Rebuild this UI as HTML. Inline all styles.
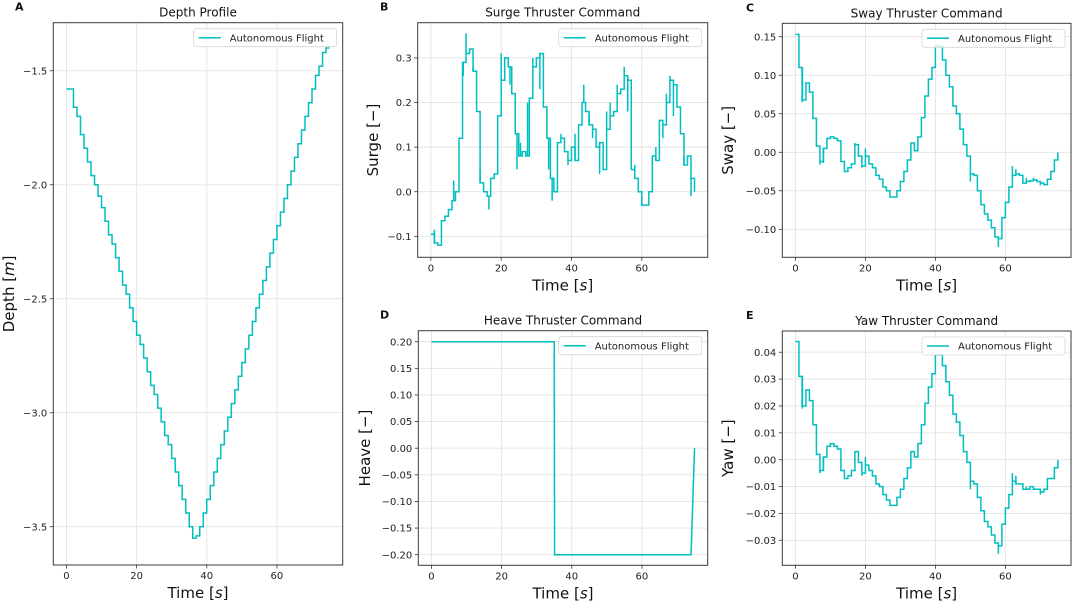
<!DOCTYPE html>
<html><head><meta charset="utf-8"><style>
html,body{margin:0;padding:0;background:#fff}
svg{display:block;font-family:"DejaVu Sans","Liberation Sans",sans-serif}
</style></head><body>
<svg id="fig" width="1072" height="601" viewBox="0 0 1072 601" xmlns="http://www.w3.org/2000/svg"></svg>
<script>
const xTicks = [0, 20, 40, 60];
const depthValues = [-1.58,-1.58,-1.66,-1.70,-1.78,-1.84,-1.90,-1.96,-2.00,-2.05,-2.10,-2.16,-2.22,-2.26,-2.32,-2.38,-2.44,-2.48,-2.54,-2.60,-2.66,-2.70,-2.76,-2.82,-2.88,-2.92,-2.98,-3.04,-3.10,-3.14,-3.20,-3.26,-3.32,-3.38,-3.44,-3.50,-3.55,-3.54,-3.50,-3.44,-3.38,-3.32,-3.26,-3.20,-3.14,-3.08,-3.02,-2.96,-2.90,-2.84,-2.78,-2.72,-2.66,-2.60,-2.54,-2.48,-2.42,-2.36,-2.30,-2.24,-2.18,-2.12,-2.06,-2.00,-1.94,-1.88,-1.82,-1.76,-1.70,-1.64,-1.58,-1.52,-1.48,-1.42,-1.40,-1.40];
const surgeValues = [-0.095,-0.115,-0.12,-0.065,-0.055,-0.04,-0.02,0.0,0.12,0.29,0.31,0.32,0.27,0.18,0.02,0.0,-0.01,0.03,0.04,0.17,0.25,0.30,0.28,0.22,0.13,0.08,0.09,0.08,0.21,0.28,0.30,0.31,0.19,0.12,0.03,0.0,0.11,0.12,0.09,0.07,0.10,0.07,0.15,0.20,0.18,0.15,0.14,0.10,0.11,0.05,0.14,0.17,0.18,0.22,0.23,0.26,0.25,0.05,0.03,0.0,-0.03,-0.03,0.0,0.08,0.07,0.16,0.15,0.20,0.25,0.24,0.19,0.13,0.06,0.08,0.03,0.0];
const surgeSpikeT = [1,6.5,9.2,10,12,14,16.5,20,22.5,24.5,25.5,27.5,29,31,33.5,34.5,37,39,41,43.5,45,46,48,50,51,53,55,56,58,60,62,64,66,67,68,69,72,74];
const surgeSpikeV = [-0.085,0.025,0.26,0.355,0.28,0.05,-0.04,0.31,0.24,0.05,0.11,0.2,0.3,0.23,0.05,-0.02,0.13,0.06,0.13,0.24,0.18,0.12,0.04,0.18,0.2,0.24,0.28,0.18,0.06,-0.01,0.0,0.1,0.12,0.22,0.26,0.17,0.08,-0.01];
const swayValues = [0.153,0.11,0.068,0.09,0.078,0.044,0.008,-0.012,0.005,0.018,0.02,0.018,0.015,-0.012,-0.025,-0.02,-0.015,0.01,-0.005,-0.018,-0.005,-0.015,-0.02,-0.03,-0.035,-0.045,-0.05,-0.058,-0.058,-0.05,-0.038,-0.025,-0.01,0.012,0.002,0.02,0.045,0.073,0.095,0.11,0.138,0.138,0.12,0.10,0.085,0.06,0.05,0.03,0.01,-0.005,-0.028,-0.03,-0.05,-0.068,-0.08,-0.088,-0.098,-0.11,-0.112,-0.085,-0.065,-0.045,-0.03,-0.028,-0.03,-0.04,-0.038,-0.037,-0.036,-0.038,-0.04,-0.042,-0.035,-0.025,-0.01,0.0];
const swaySpikeT = [1.9,7,8,17,19,20,50,58,62,63,66,68,70];
const swaySpikeV = [0.065,-0.016,-0.014,0.012,-0.02,0.005,-0.038,-0.123,-0.018,-0.022,-0.033,-0.033,-0.043];
const yawValues = [0.044,0.031,0.020,0.026,0.022,0.013,0.002,-0.004,0.001,0.005,0.006,0.005,0.004,-0.004,-0.007,-0.006,-0.004,0.003,-0.001,-0.005,-0.002,-0.004,-0.006,-0.009,-0.01,-0.013,-0.015,-0.017,-0.017,-0.014,-0.011,-0.007,-0.003,0.003,0.001,0.006,0.013,0.021,0.027,0.032,0.039,0.039,0.035,0.029,0.024,0.017,0.014,0.009,0.003,-0.001,-0.008,-0.009,-0.014,-0.019,-0.023,-0.025,-0.028,-0.031,-0.032,-0.024,-0.018,-0.013,-0.008,-0.009,-0.009,-0.011,-0.011,-0.01,-0.011,-0.011,-0.012,-0.011,-0.007,-0.007,-0.003,0.0];
const yawSpikeT = [1.9,7,8,17,19,20,50,58,62,63,66,68,70];
const yawSpikeV = [0.019,-0.005,-0.004,0.003,-0.006,0.001,-0.011,-0.035,-0.005,-0.006,-0.010,-0.010,-0.013];
const heaveT = [0, 35, 35.1, 74, 75];
const heaveValues = [0.2, 0.2, -0.2, -0.2, 0.0];
const depthTicks = [-1.5,-2.0,-2.5,-3.0,-3.5];
const surgeTicks = [-0.1,0.0,0.1,0.2,0.3];
const swayTicks = [-0.10,-0.05,0.00,0.05,0.10,0.15];
const heaveTicks = [-0.20,-0.15,-0.10,-0.05,0.00,0.05,0.10,0.15,0.20];
const yawTicks = [-0.03,-0.02,-0.01,0.00,0.01,0.02,0.03,0.04];

const NS = "http://www.w3.org/2000/svg";
const svg = document.getElementById('fig');
const COLOR = "#00bfbf";
function el(tag, attrs, parent) {
  const e = document.createElementNS(NS, tag);
  for (const k in attrs) e.setAttribute(k, attrs[k]);
  (parent || svg).appendChild(e);
  return e;
}
function fmt(v, d) { const s = Math.abs(v).toFixed(d); return (v < -1e-9 ? "\u2212" : "") + s; }

function panel(cfg) {
  const g = el('g', {});
  
  
  const L = cfg.box[0], T = cfg.box[1], R = cfg.box[2], B = cfg.box[3];
  const xs = t => L + (t - (-3.75)) / 82.5 * (R - L);
  const ys = v => T + (cfg.ylim[1] - v) / (cfg.ylim[1] - cfg.ylim[0]) * (B - T);
  xTicks.forEach(t => {
    const ln = el('line', {x1: xs(t), x2: xs(t), y1: T, y2: B, stroke: "#e3e3e3", "stroke-width": 0.9}, g);
    
    
  });
  cfg.yticks.forEach(v => {
    const ln = el('line', {x1: L, x2: R, y1: ys(v), y2: ys(v), stroke: "#e3e3e3", "stroke-width": 0.9}, g);
    
    
  });
  let d = "";
  if (cfg.step) {
    cfg.vals.forEach((v, i) => {
      if (i === 0) d += "M" + xs(0).toFixed(2) + "," + ys(v).toFixed(2);
      else d += "H" + xs(i).toFixed(2) + "V" + ys(v).toFixed(2);
    });
  } else {
    cfg.vals.forEach((v, i) => { d += (i === 0 ? "M" : "L") + xs(cfg.t[i]).toFixed(2) + "," + ys(v).toFixed(2); });
  }
  const clipId = "clip-" + cfg.name;
  const cp = el('clipPath', {id: clipId}, g);
  el('rect', {x: L, y: T, width: R - L, height: B - T}, cp);
  const path = el('path', {d: d, fill: "none", stroke: COLOR, "stroke-width": 1.5, "clip-path": "url(#" + clipId + ")"}, g);
  
  
  if (cfg.spT) {
    cfg.spT.forEach((t, i) => {
      const base = cfg.vals[Math.min(cfg.vals.length - 1, Math.floor(t))];
      const sp = el('line', {x1: xs(t), x2: xs(t), y1: ys(base), y2: ys(cfg.spV[i]), stroke: COLOR, "stroke-width": 1.5}, g);
      
      
    });
  }
  const fr = el('rect', {x: L, y: T, width: R - L, height: B - T, fill: "none", stroke: "#3a3a3a", "stroke-width": 1}, g);
  
  
  xTicks.forEach(t => {
    el('line', {x1: xs(t), x2: xs(t), y1: B, y2: B + 3.5, stroke: "#333", "stroke-width": 0.8}, g);
    const tx = el('text', {x: xs(t), y: B + 14, "font-size": 10, "text-anchor": "middle", fill: "#222"}, g);
    tx.textContent = String(t);
    
    
  });
  cfg.yticks.forEach(v => {
    el('line', {x1: L - 3.5, x2: L, y1: ys(v), y2: ys(v), stroke: "#333", "stroke-width": 0.8}, g);
    const tx = el('text', {x: L - 6, y: ys(v) + 3.6, "font-size": 10, "text-anchor": "end", fill: "#222"}, g);
    tx.textContent = fmt(v, cfg.dec);
    
    
  });
  const ti = el('text', {x: (L + R) / 2, y: T - 6, "font-size": 12, "text-anchor": "middle", fill: "#111"}, g);
  ti.textContent = cfg.title;
  
  
  const lt = el('text', {x: cfg.letterX, y: T - 12, "font-size": 11, "font-weight": "bold", fill: "#111"}, g);
  lt.textContent = cfg.letter;
  
  
  const xl = el('text', {x: (L + R) / 2, y: B + 33, "font-size": 15, "text-anchor": "middle", fill: "#111"}, g);
  xl.innerHTML = 'Time [<tspan font-style="italic">s</tspan>]';
  
  
  const cy = (T + B) / 2;
  const yl = el('text', {x: cfg.ylabX, y: cy, "font-size": 15, "text-anchor": "middle", fill: "#111", transform: "rotate(-90 " + cfg.ylabX + " " + cy + ")"}, g);
  yl.innerHTML = cfg.ylabel;
  
  
  const lg = el('g', {}, g);
  
  
  const lw = 143, lh = 18;
  const lx = R - 6 - lw, ly = T + 6;
  el('rect', {x: lx, y: ly, width: lw, height: lh, rx: 2.5, fill: "rgba(255,255,255,0.8)", stroke: "#d6d6d6", "stroke-width": 0.8}, lg);
  el('line', {x1: lx + 5, x2: lx + 27, y1: ly + lh / 2, y2: ly + lh / 2, stroke: COLOR, "stroke-width": 1.5}, lg);
  const lt2 = el('text', {x: lx + 36, y: ly + lh / 2 + 3.6, "font-size": 10, fill: "#222"}, lg);
  lt2.textContent = "Autonomous Flight";
  
  
}

panel({name: "depth-panel", box: [53.3, 22.7, 342.7, 565], ylim: [-3.668, -1.289], yticks: depthTicks, dec: 1, vals: depthValues, step: true, title: "Depth Profile", letter: "A", letterX: 15, ylabX: 14, ylabel: 'Depth [<tspan font-style="italic">m</tspan>]'});
panel({name: "surge-panel", box: [417.7, 22.7, 707.7, 257.3], ylim: [-0.147, 0.379], yticks: surgeTicks, dec: 1, vals: surgeValues, step: true, spT: surgeSpikeT, spV: surgeSpikeV, title: "Surge Thruster Command", letter: "B", letterX: 380, ylabX: 378, ylabel: "Surge [\u2212]"});
panel({name: "sway-panel", box: [782.3, 23.3, 1071, 257.3], ylim: [-0.1363, 0.1674], yticks: swayTicks, dec: 2, vals: swayValues, step: true, spT: swaySpikeT, spV: swaySpikeV, title: "Sway Thruster Command", letter: "C", letterX: 746, ylabX: 733, ylabel: "Sway [\u2212]"});
panel({name: "heave-panel", box: [418.3, 330.7, 707.7, 565.3], ylim: [-0.2199, 0.2207], yticks: heaveTicks, dec: 2, vals: heaveValues, t: heaveT, step: false, title: "Heave Thruster Command", letter: "D", letterX: 380, ylabX: 370, ylabel: "Heave [\u2212]"});
panel({name: "yaw-panel", box: [782.3, 331, 1071, 565.3], ylim: [-0.0393, 0.0479], yticks: yawTicks, dec: 2, vals: yawValues, step: true, spT: yawSpikeT, spV: yawSpikeV, title: "Yaw Thruster Command", letter: "E", letterX: 746, ylabX: 733, ylabel: "Yaw [\u2212]"});
</script>
</body></html>
